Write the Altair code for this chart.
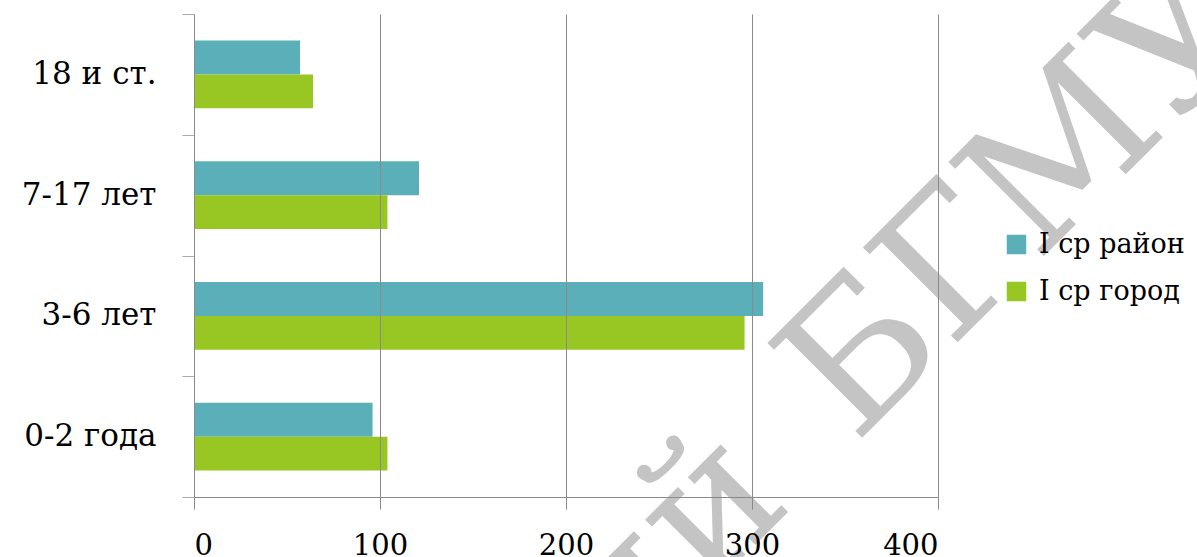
import altair as alt
import pandas as pd

categories = ["18 и ст.", "7-17 лет\u00a0", "3-6 лет", "0-2 года"]
series = ["I ср район", "I ср город"]
rayon = [57, 121, 306, 96]
gorod = [64, 104, 296, 104]
colors = ["#5aafb9", "#98c723"]
x_ticks = [0, 100, 200, 300, 400]

rows = []
for c, r, g in zip(categories, rayon, gorod):
    rows.append({"category": c, "series": series[0], "value": r})
    rows.append({"category": c, "series": series[1], "value": g})
df = pd.DataFrame(rows)

FONT = "DejaVu Serif"
GRAY = "#8a8a8a"

bars = alt.Chart(df).mark_bar().encode(
    x=alt.X(
        "value:Q",
        scale=alt.Scale(domain=[0, 400], nice=False),
        axis=alt.Axis(
            values=x_ticks, title=None, grid=True, gridColor=GRAY, gridWidth=1,
            domainColor=GRAY, tickColor=GRAY, tickSize=12, labelFont=FONT,
            labelFontSize=29, labelColor="black", labelPadding=22, zindex=1,
        ),
    ),
    y=alt.Y(
        "category:N", sort=categories,
        scale=alt.Scale(paddingInner=0, paddingOuter=0),
        axis=alt.Axis(
            title=None, tickBand="extent", tickSize=12, tickColor="#aaaaaa",
            domainColor=GRAY, labelFont=FONT, labelFontSize=31,
            labelColor="black", labelPadding=26, zindex=1,
        ),
    ),
    yOffset=alt.YOffset(
        "series:N", sort=series,
        scale=alt.Scale(paddingInner=0, paddingOuter=0.78),
    ),
    color=alt.Color(
        "series:N", sort=series,
        scale=alt.Scale(domain=series, range=colors),
        legend=alt.Legend(
            title=None, orient="none", legendX=809, legendY=217,
            symbolType="square", symbolSize=380, symbolStrokeWidth=0,
            labelFont=FONT, labelFontSize=27, labelColor="black",
            labelOffset=9, rowPadding=19, padding=0,
        ),
    ),
)

wm1 = alt.Chart(pd.DataFrame({"t": ["БГМУ"]})).mark_text(
    angle=315, align="left", baseline="alphabetic", font=FONT,
    fontSize=184, color="#c4c4c4",
).encode(text="t:N", x=alt.value(661), y=alt.value(431))

wm2 = alt.Chart(pd.DataFrame({"t": ["Репозиторий"]})).mark_text(
    angle=315, align="right", baseline="alphabetic", font=FONT,
    fontSize=184, color="#c4c4c4",
).encode(text="t:N", x=alt.value(601), y=alt.value(491))

chart = alt.layer(wm1, wm2, bars).properties(
    width=744, height=483,
    background="white",
    autosize=alt.AutoSizeParams(type="none"),
    padding={"left": 194, "top": 14, "right": 259, "bottom": 60},
).configure_view(stroke=None)

chart.save("out.html", embed_options={"renderer": "svg", "actions": False})
